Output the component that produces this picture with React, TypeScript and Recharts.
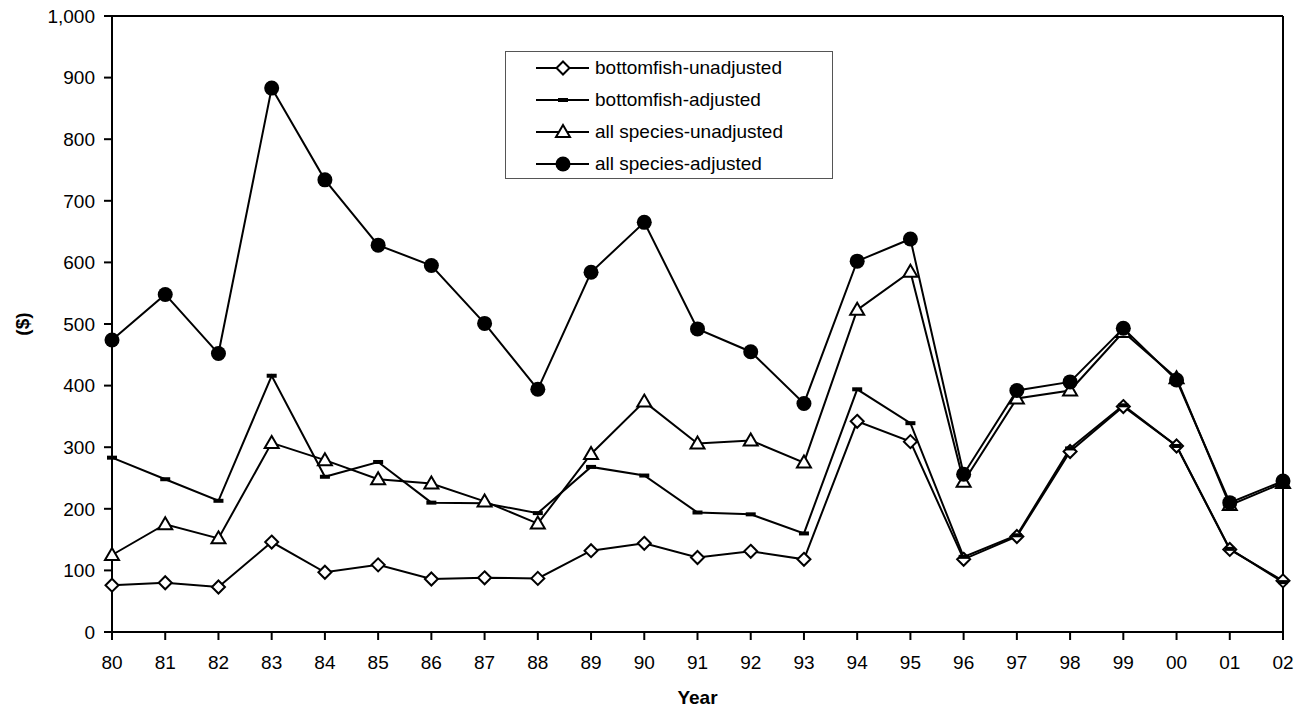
import React from 'react';
import { LineChart, Line, XAxis, YAxis, Legend, ReferenceLine } from 'recharts';

const years = ['80', '81', '82', '83', '84', '85', '86', '87', '88', '89', '90', '91',
  '92', '93', '94', '95', '96', '97', '98', '99', '00', '01', '02'];

const bottomfishUnadjusted = [76, 80, 73, 146, 97, 109, 86, 88, 87, 132, 144, 121,
  131, 118, 342, 309, 118, 155, 293, 366, 302, 134, 83];
const bottomfishAdjusted = [283, 248, 213, 416, 252, 276, 210, 209, 193, 268, 254, 194,
  191, 160, 394, 339, 122, 157, 298, 368, 302, 135, 81];
const allSpeciesUnadjusted = [125, 175, 152, 307, 279, 248, 241, 212, 176, 289, 374, 306,
  311, 275, 523, 585, 244, 379, 392, 487, 412, 206, 242];
const allSpeciesAdjusted = [474, 548, 452, 883, 734, 628, 595, 501, 394, 584, 665, 492,
  455, 371, 602, 638, 256, 392, 406, 493, 409, 210, 245];

const yTicks = [0, 100, 200, 300, 400, 500, 600, 700, 800, 900, 1000];

const FONT = '"Liberation Sans", Arial, sans-serif';

const series = [
  { key: 'bfUnadj', name: 'bottomfish-unadjusted', shape: 'diamond', values: bottomfishUnadjusted },
  { key: 'bfAdj', name: 'bottomfish-adjusted', shape: 'dash', values: bottomfishAdjusted },
  { key: 'allUnadj', name: 'all species-unadjusted', shape: 'triangle', values: allSpeciesUnadjusted },
  { key: 'allAdj', name: 'all species-adjusted', shape: 'circle', values: allSpeciesAdjusted },
];

const data = years.map((year, i) => {
  const row: { [k: string]: string | number } = { year };
  series.forEach(s => { row[s.key] = s.values[i]; });
  return row;
});

const Marker = ({ shape, cx, cy }: { shape: string; cx: number; cy: number }) => {
  switch (shape) {
    case 'diamond':
      return <polygon points={`${cx},${cy - 6.5} ${cx + 6.5},${cy} ${cx},${cy + 6.5} ${cx - 6.5},${cy}`}
        fill="#fff" stroke="#000" strokeWidth={2} />;
    case 'dash':
      return <rect x={cx - 5} y={cy - 2} width={10} height={4} fill="#000" />;
    case 'triangle':
      return <polygon points={`${cx},${cy - 7} ${cx + 7},${cy + 5} ${cx - 7},${cy + 5}`}
        fill="#fff" stroke="#000" strokeWidth={2} />;
    default:
      return <circle cx={cx} cy={cy} r={7.5} fill="#000" />;
  }
};

const LegendBox = () => (
  <div style={{
    border: '1px solid #555', width: 326, height: 126, background: '#fff',
    fontFamily: FONT, fontSize: 19, color: '#000',
  }}>
    {series.map(s => (
      <div key={s.key} style={{ height: 32, display: 'flex', alignItems: 'center' }}>
        <svg width={89} height={32} style={{ flex: 'none' }}>
          <line x1={30} x2={83} y1={16} y2={16} stroke="#000" strokeWidth={2} />
          <Marker shape={s.shape} cx={57} cy={16} />
        </svg>
        <span style={{ whiteSpace: 'nowrap' }}>{s.name}</span>
      </div>
    ))}
  </div>
);

const YTitle = (props: any) => {
  const { viewBox } = props;
  const y = viewBox.y + viewBox.height / 2;
  return (
    <text x={22} y={y} transform={`rotate(-90, 22, ${y})`} textAnchor="middle"
      dominantBaseline="central" fontWeight="bold" fontSize={19} fontFamily={FONT} fill="#000">
      ($)
    </text>
  );
};

export default function App() {
  return (
    <div style={{ position: 'absolute', left: 0, top: 0, background: '#fff' }}>
      <LineChart width={1307} height={711} data={data}
        margin={{ top: 16, right: 24, bottom: 0, left: 0 }}
        style={{ fontFamily: FONT }}>
        <XAxis dataKey="year" interval={0} height={79} tickSize={8} tickMargin={16}
          stroke="#000" strokeWidth={2}
          tick={{ fill: '#000', fontSize: 19, fontFamily: FONT }}
          label={{ value: 'Year', position: 'insideBottom', offset: 7, fill: '#000', fontSize: 19, fontWeight: 'bold', fontFamily: FONT }} />
        <YAxis domain={[0, 1000]} ticks={yTicks} interval={0} width={112} tickSize={8} tickMargin={9}
          stroke="#000" strokeWidth={2}
          tickFormatter={(v: number) => v.toLocaleString('en-US')}
          tick={{ fill: '#000', fontSize: 19, fontFamily: FONT }}
          label={{ content: <YTitle /> }} />
        <ReferenceLine y={1000} stroke="#000" strokeWidth={2} />
        <ReferenceLine x="02" stroke="#000" strokeWidth={2} />
        <Legend layout="vertical" align="center" verticalAlign="middle"
          wrapperStyle={{ left: 505, top: 51, width: 'auto' }}
          content={<LegendBox />} />
        {series.map(s => (
          <Line key={s.key} dataKey={s.key} name={s.name} stroke="#000" strokeWidth={2}
            isAnimationActive={false} activeDot={false}
            dot={(p: any) => <Marker key={`${s.key}-${p.index}`} shape={s.shape} cx={p.cx} cy={p.cy} />} />
        ))}
      </LineChart>
    </div>
  );
}
